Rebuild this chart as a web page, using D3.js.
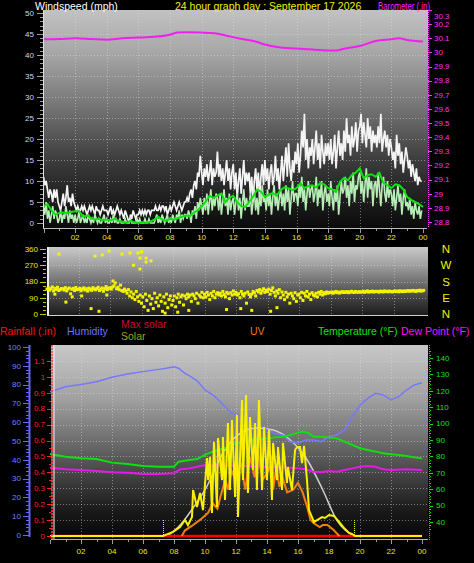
<!DOCTYPE html>
<html><head><meta charset="utf-8">
<script src="https://cdn.jsdelivr.net/npm/d3@7"></script>
<style>
html,body{margin:0;padding:0;background:#000;}
svg{display:block;font-family:"Liberation Sans",Arial,sans-serif;}
</style></head><body>
<svg id="c" width="474" height="563"></svg>
<script>
// ---------- DATA ----------
const hourLabels = ["02","04","06","08","10","12","14","16","18","20","22","00"];
const hourLabelHours = [2,4,6,8,10,12,14,16,18,20,22,24];

// wind, 5-minute samples (12 per hour), mph
const windGust = [
11,9,10,8,6,8,7,5,8,6,8,5,
4,3,5,7,4,6,9,5,6,4,7,5,
4,3,4,3,3,4,3,4,3,2,3,4,
3,4,3,2,4,3,3,2,3,4,3,3,
3,2,3,4,2,3,2,3,4,3,2,3,
2,1,3,2,1,0,2,1,3,2,1,2,
2,3,2,3,2,3,2,3,3,2,3,3,
3,4,3,3,4,3,4,4,3,4,2,3,
4,3,4,5,4,3,4,5,4,3,4,5,
5,6,5,7,8,6,9,10,8,12,11,16,
12,9,13,11,14,10,12,15,9,13,11,12,
17,11,14,10,13,9,12,15,10,13,8,12,
14,8,12,6,10,13,7,11,15,9,12,10,
12,7,11,5,10,13,8,12,6,11,14,9,
15,10,13,8,12,14,9,11,16,10,13,8,
12,16,10,14,18,11,19,13,10,15,12,17,
14,19,12,16,22,18,26,15,20,13,18,16,
20,14,18,22,15,19,13,21,17,14,19,16,
19,15,20,14,17,21,13,18,22,16,19,15,
22,17,25,19,21,16,23,18,20,24,17,22,
23,26,19,24,21,18,25,20,23,17,22,19,
21,18,23,19,26,17,20,22,18,21,16,20,
18,15,17,13,21,16,19,14,17,12,15,18,
16,13,15,11,14,12,10,13,9,11,10,10];
const windSpeed = [
4,2,5,1,3,0,2,4,1,3,2,0,
1,3,0,2,1,4,2,0,3,1,2,0,
2,0,1,3,0,1,2,0,1,0,2,1,
0,1,0,2,1,0,1,0,0,1,2,0,
1,0,0,1,0,2,0,1,0,0,1,0,
0,0,1,0,0,0,1,0,0,0,0,1,
0,1,0,0,0,1,0,0,1,0,0,0,
0,1,2,0,1,0,2,1,0,1,2,0,
1,0,2,1,0,2,1,3,0,2,1,2,
2,1,3,2,0,3,2,4,1,5,3,6,
4,2,6,3,7,2,5,8,3,6,4,7,
6,3,7,2,5,8,4,6,2,7,3,5,
6,2,5,7,3,6,1,5,8,3,6,4,
4,7,2,5,8,3,6,2,7,4,9,5,
6,3,8,4,7,2,6,9,4,7,3,6,
8,4,7,3,9,5,8,2,6,10,5,7,
7,4,9,6,11,5,8,3,7,10,6,8,
9,5,7,11,4,8,6,10,3,7,9,5,
7,4,10,6,3,8,5,9,2,6,10,7,
8,11,6,9,4,10,7,12,5,9,8,11,
12,7,10,5,9,13,6,11,8,10,4,9,
10,6,12,8,4,9,11,7,5,10,6,8,
7,4,8,3,6,9,5,7,2,6,8,4,
5,3,6,2,4,1,5,3,2,4,1,3];
// average wind, 15-minute samples (4 per hour) + final point
const windAvg = [
4,4.5,3,2, 2.4,2.5,2.4,2.6, 2.8,2.8,1.5,1.8, 1.2,0.8,1,0.7,
0.8,0.6,1,0.5, 0.3,0,0.5,0.2, 0,0.2,0,0.3, 0.8,1.5,0.8,0.5,
1,0.8,1.2,1.5, 1.8,1.6,2.5,3, 4,5,6.5,6, 6.5,7,5,6,
6.5,5,4,3.8, 5,6.2,7.9,7.5, 6.2,6.8,7.1,6.5, 7.9,8.5,8.3,7.8,
8.3,9.5,8.3,8.8, 9,8.5,9.5,9.2, 8.3,8,7.4,9.8, 10.7,10.2,11.4,12,
13,10.7,11.4,11.6, 11,11.9,9.5,9, 8.3,9.2,9,8, 6.2,5.5,5,4.5, 3.8];

const baroHours  = [0,1,2,3,4,5,6,7,8,8.5,9,10,10.8,11.5,12.3,13.4,14,15,16,17,18,18.5,19,20,21,22,22.5,23,24];
const baroValues = [30.093,30.095,30.1,30.095,30.09,30.1,30.105,30.11,30.125,30.14,30.142,30.14,30.135,30.12,30.1,30.077,30.056,30.035,30.028,30.02,30.014,30.013,30.026,30.045,30.08,30.093,30.1,30.088,30.077];

// wind direction, 5-minute samples, degrees
const dirValues = [
138,145,132,140,150,128,142,136,148,130,135,141,
140,133,146,128,139,144,112,137,142,130,147,135,
136,142,129,138,145,133,140,127,143,137,131,146,
139,134,141,148,130,137,144,126,140,152,135,143,
145,138,150,156,172,140,148,135,160,130,125,138,
128,115,135,100,122,90,110,80,125,95,70,105,
60,95,40,110,75,20,100,55,85,30,115,65,
90,45,105,70,15,95,60,110,35,80,100,50,
75,100,40,90,110,65,95,105,50,100,85,110,
95,105,70,110,100,85,115,60,105,95,120,90,
110,95,120,105,80,115,100,125,90,110,118,105,
115,100,125,108,95,120,112,85,118,105,128,110,
120,105,112,90,125,110,100,115,60,122,108,95,
110,125,118,100,130,122,135,115,128,140,120,132,
125,138,110,130,145,120,100,128,115,135,90,122,
105,80,120,95,110,60,115,100,85,118,70,105,
110,90,120,75,115,100,125,95,110,80,118,105,
100,115,95,120,110,125,105,118,112,122,115,120,
118,122,115,120,125,118,122,116,121,124,119,123,
120,124,118,122,126,121,119,125,122,120,124,121,
122,126,120,124,128,121,125,123,127,122,124,126,
124,121,127,125,122,128,124,126,123,127,125,122,
125,128,124,127,123,129,126,124,128,125,127,130,
126,129,127,131,128,125,130,128,132,127,129,131];
const dirExtraHours   = [0.76,3.05,3.5,3.94,4.76,5.27,5.78,5.9,6.29,6.29,5.9,4.19,1.2,2.8,3.3,2.2,0.5,1.6,3.8,6.6,6.0,5.5,12.3,13.0,14.2,14.6,11.4,8.3,7.5,9.0];
const dirExtraDegrees = [332,321,327,349,332,338,338,310,310,288,249,183,66,30,15,100,110,95,105,295,345,270,30,20,15,35,25,10,5,20];

const humHours  = [0,1,2,3,4,5,6,7,7.5,8,8.3,8.7,9,9.5,10,10.5,11,11.5,12,12.5,13,13.5,14,14.5,15,15.5,16,16.5,17,17.5,18,18.5,19,19.5,20,20.5,21,21.5,22,22.5,23,23.5,24];
const humValues = [76.2,78.9,80.1,81.5,83.9,85.6,86.9,88.1,88.7,89.5,88.7,86,84.6,82,77.1,74.5,70.9,66.5,63.3,64.2,59.4,59,55.9,54,53.2,49.6,48.8,50.5,50.5,49.6,52.3,53.2,55.9,62.9,69.1,72.7,75.4,74.5,71.8,73.6,77.1,79.8,81];

const tempHours  = [0,1,2,3,4,5,6,7,8,8.3,9,9.5,10,10.5,11,11.5,12,12.5,13,13.5,14,14.5,15,15.5,16,16.3,16.7,17,17.5,18,18.5,19,19.5,20,20.5,21,21.5,22,22.5,23,23.5,24];
const tempValues = [81.5,79.8,78.8,78.4,76.2,75.4,74.1,73.7,73.7,76.8,77.8,78.4,80.9,82.9,84.3,85.9,88,89,90,90.4,91,91.6,92,93,94.5,95.1,94.1,92,92,91.6,91,89,87,85,83.9,82.9,81.9,81.3,80.9,80.2,79.4,78.8];

const dewHours  = [0,1,2,3,4,5,6,7,8,8.4,9,9.5,10,10.5,11,12,13,14,15,16,16.5,17,17.5,18,18.5,19,19.5,20,20.5,21,21.5,22,23,24];
const dewValues = [73.1,72.1,71.7,71.1,70.3,70,69.3,69.3,69.7,72.1,72.7,73.7,74.8,74.1,74.6,74.1,74.1,73.6,73.4,72.7,72.1,70.7,70.3,71.1,70.7,71.7,72.7,73.7,74.1,73.7,72.1,71.7,72.1,71.7];

const maxSolarHours  = [7.6,8.4,9.0,10.1,11.2,12.3,13.4,14.4,15.5,16.6,17.6,18.5,19.6];
const maxSolarValues = [0,80,169,359,616,755,792,777,704,557,337,117,0];

const solarHours  = [0,7.29,7.94,8.39,8.71,8.9,9.16,9.23,9.48,9.68,9.87,10.13,10.2,10.32,10.45,10.58,10.77,10.84,11.1,11.16,11.29,11.48,11.61,11.74,11.94,12.06,12.13,12.39,12.45,12.65,12.77,12.9,13.1,13.23,13.35,13.48,13.68,13.81,14,14.13,14.32,14.39,14.65,14.71,14.97,15.03,15.29,15.35,15.61,15.81,15.94,16.13,16.26,16.39,16.58,16.71,17.03,17.23,17.55,17.74,18,18.32,18.65,18.97,19.29,19.48,19.68,24];
const solarValues = [0,0,30,66,117,80,139,337,213,315,190,572,410,580,168,690,213,718,410,726,264,828,337,850,286,887,139,997,410,1034,315,872,484,828,337,997,337,799,410,777,264,682,410,652,337,682,388,506,337,630,652,652,535,660,410,190,103,117,139,132,154,147,103,59,22,15,0,0];

const uvHours  = [8.5,8.7,9.1,9.7,10.2,10.5,10.8,11,11.3,11.5,11.7,12,12.3,12.6,12.9,13.2,13.4,13.7,14,14.2,14.3,14.4,14.6,14.8,15,15.3,15.7,16,16.3,16.6,16.8,17,17.4,17.6,17.9,18.3,18.6,18.7];
const uvValues = [0,0.4,0.7,1.2,1.7,2.4,2,2.9,4.1,3.4,4.8,4.1,5.4,3.4,5.8,4.3,6.3,4.1,4.6,5.1,5.9,3.4,5.1,3.6,4.3,3.2,3.4,3.9,3.2,2.1,1.2,0.95,0.66,0.8,0.8,0.44,0.07,0];

const rainHours = [0,24];
const rainValues = [0,0];
const sunMarkHours = [7.29,19.6];

// ---------- DRAW ----------
const svg = d3.select("#c");
const defs = svg.append("defs");
function grad(id, stops){
  const g = defs.append("linearGradient").attr("id",id).attr("x1",0).attr("y1",0).attr("x2",0).attr("y2",1);
  stops.forEach(s=>g.append("stop").attr("offset",s[0]).attr("stop-color",s[1]));
}
grad("gTop",[[0,"#c2c2c2"],[0.2,"#a6a6a6"],[0.42,"#7a7a7a"],[0.56,"#5a5a5a"],[0.7,"#3a3a3a"],[0.88,"#1c1c1c"],[1,"#0b0b0b"]]);
grad("gMid",[[0,"#cacaca"],[0.25,"#a2a2a2"],[0.5,"#727272"],[0.75,"#404040"],[1,"#1a1a1a"]]);
grad("gBot",[[0,"#c8c8c8"],[0.28,"#a0a0a0"],[0.49,"#6e6e6e"],[0.7,"#3c3c3c"],[0.85,"#1a1a1a"],[1,"#050505"]]);

const gridStyle = g => g.attr("stroke","rgba(225,225,225,0.45)").attr("stroke-width",1).attr("stroke-dasharray","1,2");
const tickFont = "8px";
const yellowTxt = "#e8e800";

// ===== TOP PANEL =====
const xTop = d3.scaleLinear().domain([0,24]).range([43.5,423]);
const ySpeed = d3.scaleLinear().domain([0,50]).range([223,13]);
const yBaro = d3.scaleLinear().domain([28.8,30.3]).range([222,10]);
svg.append("rect").attr("x",43).attr("y",10).attr("width",385).attr("height",218).attr("fill","url(#gTop)");
const topGrid = svg.append("g");
d3.range(5,50,5).forEach(v=>topGrid.append("line").attr("x1",43).attr("x2",427).attr("y1",ySpeed(v)+0.5).attr("y2",ySpeed(v)+0.5).call(gridStyle));
d3.range(2,24,2).forEach(h=>topGrid.append("line").attr("x1",Math.round(xTop(h))+0.5).attr("x2",Math.round(xTop(h))+0.5).attr("y1",10).attr("y2",228).call(gridStyle));

const lineGust = d3.line().x((d,i)=>xTop(i*5/60)).y(d=>ySpeed(d));
svg.append("path").attr("d",lineGust(windGust)).attr("fill","none").attr("stroke","#f4f4f4").attr("stroke-width",1.7);
svg.append("path").attr("d",lineGust(windSpeed)).attr("fill","none").attr("stroke","#b6eeb6").attr("stroke-width",1.6);
const lineAvg = d3.line().x((d,i)=>xTop(i*0.25)).y(d=>ySpeed(d));
svg.append("path").attr("d",lineAvg(windAvg)).attr("fill","none").attr("stroke","#10e010").attr("stroke-width",2);
const lineBaro = d3.line().x((d,i)=>xTop(baroHours[i])).y(d=>yBaro(d)).curve(d3.curveMonotoneX);
svg.append("path").attr("d",lineBaro(baroValues)).attr("fill","none").attr("stroke","#f020f0").attr("stroke-width",2);

// left axis (wind)
svg.append("line").attr("x1",43.5).attr("x2",43.5).attr("y1",10).attr("y2",229).attr("stroke","#e0e0e0");
const lAx = svg.append("g");
d3.range(0,51,1).forEach(v=>lAx.append("line").attr("x1",v%5?40:37).attr("x2",43).attr("y1",Math.round(ySpeed(v))+0.5).attr("y2",Math.round(ySpeed(v))+0.5).attr("stroke","#a0a0a0"));
d3.range(0,51,5).forEach(v=>lAx.append("text").attr("x",34).attr("y",ySpeed(v)).attr("dy","0.35em").attr("text-anchor","end").attr("font-size",tickFont).attr("fill","#c8d8ff").text(v));
// right axis (baro)
svg.append("line").attr("x1",428.5).attr("x2",428.5).attr("y1",10).attr("y2",228).attr("stroke","#ff30ff").attr("stroke-dasharray","1,1");
const rAx = svg.append("g");
d3.range(0,16).forEach(k=>{const v=28.8+k*0.1; rAx.append("line").attr("x1",428).attr("x2",432).attr("y1",Math.round(yBaro(v))+0.5).attr("y2",Math.round(yBaro(v))+0.5).attr("stroke","#ff30ff");
  rAx.append("text").attr("x",434).attr("y",Math.max(yBaro(v),16)).attr("dy","0.35em").attr("font-size",tickFont).attr("fill","#ff30ff").text(d3.format(".1f")(v).replace(/\.0$/,""));});
// bottom axis (time)
svg.append("line").attr("x1",43).attr("x2",427).attr("y1",228.5).attr("y2",228.5).attr("stroke","#bdbdbd");
d3.range(0,25,1).forEach(h=>svg.append("line").attr("x1",Math.round(xTop(h))+0.5).attr("x2",Math.round(xTop(h))+0.5).attr("y1",229).attr("y2",h%2?231:233).attr("stroke","#9a9a9a"));
hourLabels.forEach((t,i)=>svg.append("text").attr("x",xTop(hourLabelHours[i])).attr("y",237).attr("dy","0.35em").attr("text-anchor","middle").attr("font-size",tickFont).attr("fill",yellowTxt).text(t));

// titles
svg.append("text").attr("x",35).attr("y",10).attr("font-size","10.5px").attr("fill","#ffffff").text("Windspeed (mph)");
svg.append("text").attr("x",175).attr("y",10).attr("font-size","10.5px").attr("fill","#f0f000").text("24 hour graph day : September 17 2026");
svg.append("text").attr("x",378).attr("y",10).attr("font-size","10.5px").attr("fill","#ff20ff").attr("textLength",52).attr("lengthAdjust","spacingAndGlyphs").text("Barometer (.in)");

// ===== MIDDLE PANEL (wind direction) =====
const xMid = d3.scaleLinear().domain([0,24]).range([47,425]);
const yDir = d3.scaleLinear().domain([0,360]).range([314,249]);
svg.append("rect").attr("x",47).attr("y",247).attr("width",381).attr("height",69).attr("fill","url(#gMid)");
[90,180,270].forEach(v=>svg.append("line").attr("x1",47).attr("x2",428).attr("y1",Math.round(yDir(v))+0.5).attr("y2",Math.round(yDir(v))+0.5).call(gridStyle));
d3.range(2,24,2).forEach(h=>svg.append("line").attr("x1",Math.round(xMid(h))+0.5).attr("x2",Math.round(xMid(h))+0.5).attr("y1",247).attr("y2",316).call(gridStyle));
svg.append("line").attr("x1",48).attr("x2",48).attr("y1",247).attr("y2",316).attr("stroke","#eeeeee").attr("stroke-width",2);
svg.append("line").attr("x1",47).attr("x2",428).attr("y1",315.5).attr("y2",315.5).attr("stroke","#cfcfcf");
d3.range(0,361,22.5).forEach(v=>svg.append("line").attr("x1",v%90?43:40).attr("x2",46).attr("y1",Math.round(yDir(v))+0.5).attr("y2",Math.round(yDir(v))+0.5).attr("stroke","#c8c800"));
[0,90,180,270,360].forEach(v=>svg.append("text").attr("x",38).attr("y",yDir(v)).attr("dy","0.35em").attr("text-anchor","end").attr("font-size",tickFont).attr("fill",yellowTxt).text(v));
const dirG = svg.append("g").attr("fill","#f4f400");
dirValues.forEach((v,i)=>dirG.append("rect").attr("x",xMid(i*5/60)-1.5).attr("y",yDir(v)-1.5).attr("width",3).attr("height",3));
dirExtraDegrees.forEach((v,i)=>dirG.append("rect").attr("x",xMid(dirExtraHours[i])-1.5).attr("y",yDir(v)-1.5).attr("width",3).attr("height",3));
["N","W","S","E","N"].forEach((t,i)=>svg.append("text").attr("x",446).attr("y",yDir(360-i*90)).attr("dy","0.36em").attr("text-anchor","middle").attr("font-size","11.5px").attr("fill","#f0f000").text(t));

// ===== LEGEND =====
const leg = [["Rainfall (.in)",0,335,"#ff1010"],["Humidity",67,335,"#7070ff"],["Max solar",121,328,"#c0103c"],["Solar",121,340,"#a0a010"],["UV",250,335,"#f07818"],["Temperature (°F)",318,335,"#10e010"],["Dew Point (°F)",401,335,"#ff10ff"]];
leg.forEach(l=>svg.append("text").attr("x",l[1]).attr("y",l[2]).attr("font-size","10.5px").attr("fill",l[3]).text(l[0]));

// ===== BOTTOM PANEL =====
const xBot = d3.scaleLinear().domain([0,24]).range([50,422]);
const yHum = d3.scaleLinear().domain([0,100]).range([535,347]);
const yRain = d3.scaleLinear().domain([0,1.2]).range([536,345]);
const yTemp = d3.scaleLinear().domain([40,140]).range([522,358]);
const ySolar = d3.scaleLinear().domain([0,1400]).range([536,345]);
const yUV = d3.scaleLinear().domain([0,14]).range([536,345]);
svg.append("rect").attr("x",51).attr("y",345).attr("width",377).attr("height",195).attr("fill","url(#gBot)");
d3.range(1,12).forEach(k=>svg.append("line").attr("x1",51).attr("x2",428).attr("y1",Math.round(yRain(k/10))+0.5).attr("y2",Math.round(yRain(k/10))+0.5).call(gridStyle));
d3.range(2,24,2).forEach(h=>svg.append("line").attr("x1",Math.round(xBot(h))+0.5).attr("x2",Math.round(xBot(h))+0.5).attr("y1",345).attr("y2",540).call(gridStyle));

const mkLine = (hs, sc, xs) => d3.line().x((d,i)=>xs(hs[i])).y(d=>sc(d));
svg.append("path").attr("d",mkLine(maxSolarHours,ySolar,xBot).curve(d3.curveMonotoneX)(maxSolarValues)).attr("fill","none").attr("stroke","#cfcfcf").attr("stroke-width",1.5);
svg.append("path").attr("d",mkLine(humHours,yHum,xBot)(humValues)).attr("fill","none").attr("stroke","#7878ff").attr("stroke-width",1.5);
svg.append("path").attr("d",mkLine(tempHours,yTemp,xBot)(tempValues)).attr("fill","none").attr("stroke","#10e010").attr("stroke-width",2);
svg.append("path").attr("d",mkLine(dewHours,yTemp,xBot)(dewValues)).attr("fill","none").attr("stroke","#e818e8").attr("stroke-width",2);
svg.append("path").attr("d",mkLine(rainHours,yRain,xBot)(rainValues)).attr("fill","none").attr("stroke","#ff0000").attr("stroke-width",2.5);
svg.append("path").attr("d",mkLine(uvHours,yUV,xBot)(uvValues)).attr("fill","none").attr("stroke","#f08010").attr("stroke-width",2);
svg.append("path").attr("d",mkLine(solarHours,ySolar,xBot)(solarValues)).attr("fill","none").attr("stroke","#f8f000").attr("stroke-width",2);
sunMarkHours.forEach(h=>svg.append("line").attr("x1",Math.round(xBot(h))+0.5).attr("x2",Math.round(xBot(h))+0.5).attr("y1",520).attr("y2",538).attr("stroke","#f0f000").attr("stroke-dasharray","1,1"));

// left edge lines
svg.append("line").attr("x1",52).attr("x2",52).attr("y1",345).attr("y2",540).attr("stroke","#ff4040").attr("stroke-dasharray","2,1").attr("stroke-width",1.5);
svg.append("line").attr("x1",54).attr("x2",54).attr("y1",345).attr("y2",540).attr("stroke","#f0f0f0");
svg.append("line").attr("x1",51).attr("x2",428).attr("y1",539.5).attr("y2",539.5).attr("stroke","#b0b0b0");
// humidity axis
svg.append("line").attr("x1",29.5).attr("x2",29.5).attr("y1",345).attr("y2",537).attr("stroke","#6464ff").attr("stroke-width",2);
d3.range(0,101,2).forEach(v=>svg.append("line").attr("x1",v%10?26:23).attr("x2",29).attr("y1",Math.round(yHum(v))+0.5).attr("y2",Math.round(yHum(v))+0.5).attr("stroke","#6464ff"));
d3.range(0,101,10).forEach(v=>svg.append("text").attr("x",21).attr("y",yHum(v)).attr("dy","0.35em").attr("text-anchor","end").attr("font-size",tickFont).attr("fill","#6e80ff").text(v));
// rain axis
d3.range(0,23).forEach(k=>{const v=k*0.05; svg.append("line").attr("x1",k%2?49:47).attr("x2",51).attr("y1",Math.round(yRain(v))+0.5).attr("y2",Math.round(yRain(v))+0.5).attr("stroke","#ff2020");});
d3.range(0,12).forEach(k=>svg.append("text").attr("x",45).attr("y",yRain(k/10)).attr("dy","0.35em").attr("text-anchor","end").attr("font-size",tickFont).attr("fill","#ff2020").text(k===0?"0":k===10?"1":d3.format(".1f")(k/10)));
// temperature axis
svg.append("line").attr("x1",429.5).attr("x2",429.5).attr("y1",345).attr("y2",540).attr("stroke","#10e010").attr("stroke-dasharray","1,1");
d3.range(36,145,2).forEach(v=>svg.append("line").attr("x1",430).attr("x2",v%10?431:433).attr("y1",Math.round(yTemp(v))+0.5).attr("y2",Math.round(yTemp(v))+0.5).attr("stroke","#10e010"));
d3.range(40,141,10).forEach(v=>svg.append("text").attr("x",436).attr("y",yTemp(v)).attr("dy","0.35em").attr("font-size",tickFont).attr("fill","#10e010").text(v));
// time axis
d3.range(0,25,1).forEach(h=>svg.append("line").attr("x1",Math.round(xBot(h))+0.5).attr("x2",Math.round(xBot(h))+0.5).attr("y1",540).attr("y2",h%2?542:544).attr("stroke","#9a9a9a"));
hourLabels.forEach((t,i)=>svg.append("text").attr("x",xBot(hourLabelHours[i])).attr("y",551).attr("dy","0.35em").attr("text-anchor","middle").attr("font-size",tickFont).attr("fill",yellowTxt).text(t));
</script>
</body></html>
